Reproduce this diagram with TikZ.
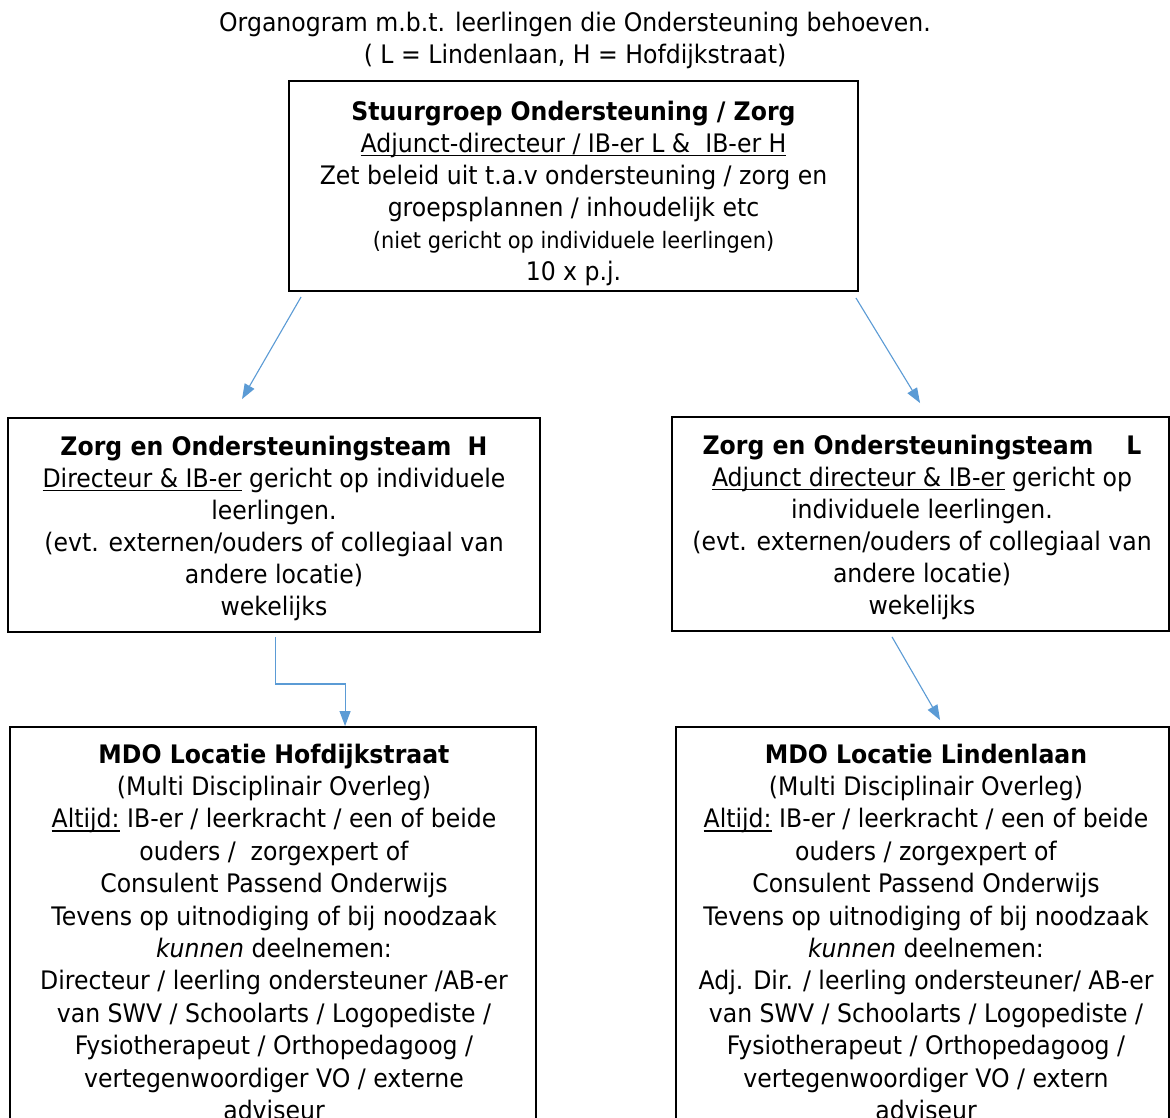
\documentclass[tikz,border=0pt]{standalone}
\usepackage{fontspec}
\setmainfont{DejaVu Sans}[FakeStretch=0.925]
\usetikzlibrary{arrows.meta,calc}
\definecolor{arr}{HTML}{5B9BD5}
\newsavebox\ulbox
\newcommand{\uln}[1]{\sbox\ulbox{#1}\rlap{\rule[-3.6pt]{\wd\ulbox}{1.3pt}}\usebox\ulbox}
\begin{document}
\begin{tikzpicture}[x=1pt,y=-1pt,
  box/.style={draw=black,line width=1.9pt,rectangle,inner sep=0pt},
  txt/.style={align=center,inner sep=0pt,anchor=north,font=\fontsize{25.5}{32}\selectfont},
  mtxt/.style={txt,font=\fontsize{25.5}{32.4}\selectfont},
  arrow/.style={draw=arr,line width=1.1pt,-{Triangle[length=15pt,width=11pt]}}]
\useasboundingbox (0,0) rectangle (1170,1117);
\clip (0,0) rectangle (1170,1117);
\fill[white] (0,0) rectangle (1170,1117);

\node[txt] (ttl) at (575,9.1) {\strut Organogram m.b.t. leerlingen die Ondersteuning behoeven.\\ \strut ( L = Lindenlaan, H = Hofdijkstraat)};

\node[box,minimum width=569pt,minimum height=210pt] (sg) at (573.5,186) {};
\node[box,minimum width=532pt,minimum height=214pt] (zh) at (274,525) {};
\node[box,minimum width=497pt,minimum height=214pt] (zl) at (920.5,524) {};
\node[box,minimum width=526pt,minimum height=430pt] (mh) at (273,942) {};
\node[box,minimum width=493pt,minimum height=430pt] (ml) at (922.5,942) {};

\node[txt] (sgt) at (573.5,97.6) {\strut\textbf{Stuurgroep Ondersteuning / Zorg}\\
 \strut\uln{Adjunct-directeur / IB-er L \&~ IB-er H}\\
 \strut Zet beleid uit t.a.v ondersteuning / zorg en\\
 \strut groepsplannen / inhoudelijk etc\\
 {\fontsize{22.6}{27}\selectfont\rule[-9.6pt]{0pt}{28.6pt}(niet gericht op individuele leerlingen)}\\
 \strut 10 x p.j.};

\node[txt] (zht) at (274,432.6) {\strut\textbf{Zorg en Ondersteuningsteam~ H}\\
 \strut\uln{Directeur \& IB-er} gericht op individuele\\
 \strut leerlingen.\\
 \strut(evt. externen/ouders of collegiaal van\\
 \strut andere locatie)\\
 \strut wekelijks};

\node[txt] (zlt) at (922,431.6) {\strut\textbf{Zorg en Ondersteuningsteam~~~~L}\\
 \strut\uln{Adjunct directeur \& IB-er} gericht op\\
 \strut individuele leerlingen.\\
 \strut(evt. externen/ouders of collegiaal van\\
 \strut andere locatie)\\
 \strut wekelijks};

\node[mtxt] (mht) at (274,740.3) {\strut\textbf{MDO Locatie Hofdijkstraat}\\
 \strut(Multi Disciplinair Overleg)\\
 \strut\uln{Altijd:} IB-er / leerkracht / een of beide\\
 \strut ouders /~ zorgexpert of\\
 \strut Consulent Passend Onderwijs\\
 \strut Tevens op uitnodiging of bij noodzaak\\
 \strut\textit{kunnen} deelnemen:\\
 \strut Directeur / leerling ondersteuner /AB-er\\
 \strut van SWV / Schoolarts / Logopediste /\\
 \strut Fysiotherapeut / Orthopedagoog /\\
 \strut vertegenwoordiger VO / externe\\
 \strut adviseur};

\node[mtxt] (mlt) at (926,740.3) {\strut\textbf{MDO Locatie Lindenlaan}\\
 \strut(Multi Disciplinair Overleg)\\
 \strut\uln{Altijd:} IB-er / leerkracht / een of beide\\
 \strut ouders / zorgexpert of\\
 \strut Consulent Passend Onderwijs\\
 \strut Tevens op uitnodiging of bij noodzaak\\
 \strut\textit{kunnen} deelnemen:\\
 \strut Adj. Dir. / leerling ondersteuner/ AB-er\\
 \strut van SWV / Schoolarts / Logopediste /\\
 \strut Fysiotherapeut / Orthopedagoog /\\
 \strut vertegenwoordiger VO / extern\\
 \strut adviseur};

\draw[arrow] ($(sg.south west)+(13,5)$) -- ($(zh.north west)+(235,-18)$);
\draw[arrow] ($(sg.south east)+(-3,6)$) -- ($(zl.north west)+(249,-13)$);
\draw[arrow] ($(zh.south west)+(268,4)$) -- ++(0,47) -| ($(mh.north west)+(336,0)$);
\draw[arrow] ($(zl.south west)+(221,5)$) -- ($(ml.north west)+(265,-6)$);
\end{tikzpicture}
\end{document}
